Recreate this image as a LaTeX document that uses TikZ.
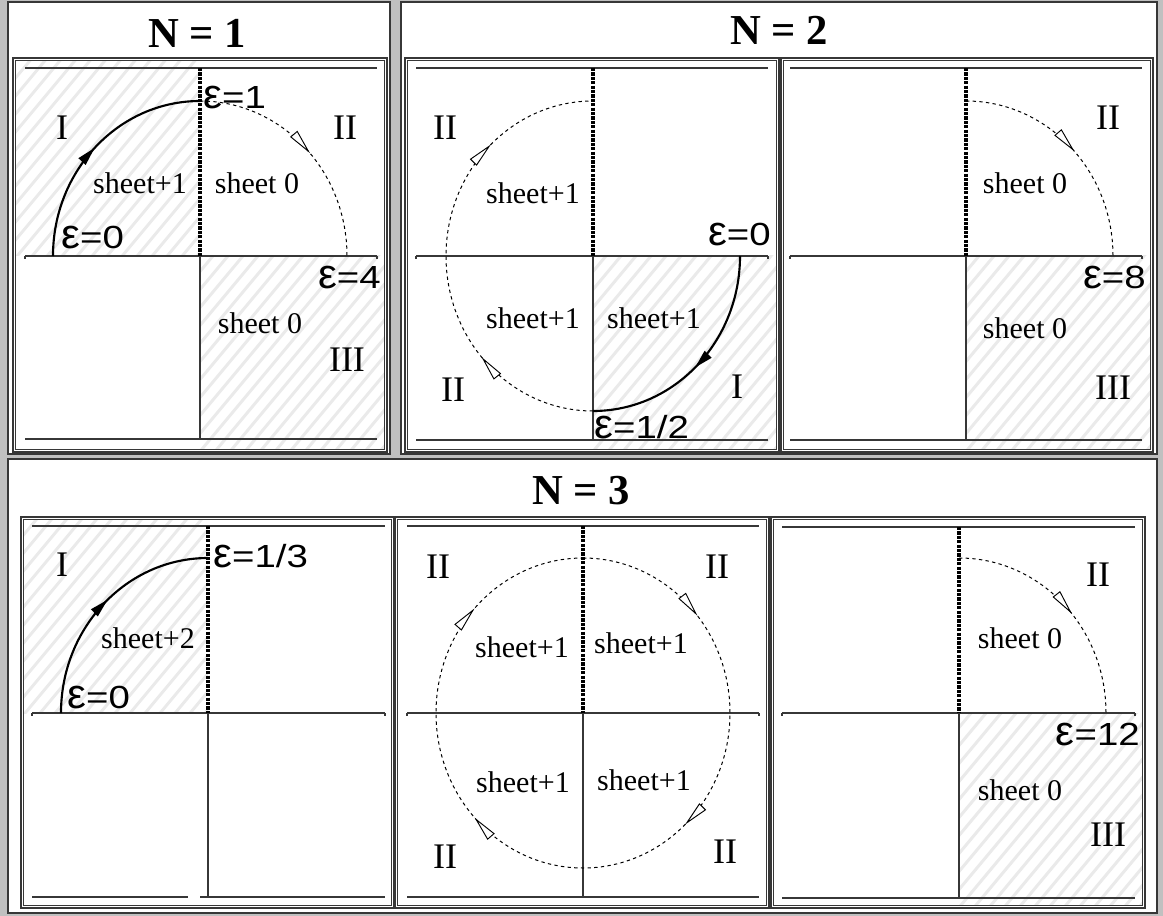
\documentclass[tikz,border=0pt]{standalone}
\usepackage{fontspec}
\usepackage{graphicx}
\setmainfont{Liberation Serif}
\newfontfamily\sansf{Liberation Sans}
\usetikzlibrary{arrows.meta,decorations.markings}
\definecolor{bgg}{RGB}{192,192,192}
\definecolor{frm}{RGB}{55,55,55}
\definecolor{htc}{RGB}{234,234,234}
\newcommand\epl[1]{\scalebox{1.2}[1]{\scalebox{1.1}[1.3]{ε}#1}}
\newcommand\myoa{\arrow[line width=0.7pt]{Triangle[length=19pt,width=7pt,fill=white]}}
\newcommand\myfa{\arrow{Triangle[length=14pt,width=7pt]}}
\newcommand\frameit[4]{%
  \draw[frm, line width=0.8pt] (#1,#2) rectangle (#3,#4);
  \draw[frm, line width=0.8pt] ({#1+2.5},{#2+2.5}) rectangle ({#3-2.5},{#4-2.5});}
\newcommand\hatchit[4]{%
  \begin{scope}
    \clip (#1,#2) rectangle (#3,#4);
    \foreach \k in {-14,...,15} {\draw[htc, line width=2.2pt] ({#1+\k*15},{#4+2}) -- ++(250,-300);}
  \end{scope}}
\newcommand\axesit[6]{% cx cy xl xr yt yb
  \draw[ax] (#3,#5) -- (#4,#5);
  \draw[ax] (#3,#2) -- (#4,#2);
  \draw[ax] (#3,#2) -- ++(0,3);
  \draw[ax] (#4,#2) -- ++(0,3);
  \draw[ax] (#1,#2) -- (#1,#6);
  \draw[dotv] (#1,#5) -- (#1,#2);}
\begin{document}
\begin{tikzpicture}[x=0.75pt,y=-0.75pt,
  ax/.style={frm, line width=0.9pt},
  dotv/.style={black, line width=2.8pt, dash pattern=on 2.4pt off 0.9pt},
  arcs/.style={black, line width=1.6pt},
  arcd/.style={black, line width=0.75pt, dash pattern=on 2.5pt off 2.5pt},
  boxst/.style={fill=white, draw=frm, line width=1.1pt},
  rom/.style={font=\fontsize{27}{27}\selectfont, inner sep=0pt},
  sh/.style={font=\fontsize{22.5}{22.5}\selectfont, inner sep=0pt},
  eps/.style={font=\sansf\fontsize{24}{24}\selectfont, inner sep=0pt},
  ttl/.style={font=\bfseries\fontsize{32}{32}\selectfont, inner sep=0pt}]
\useasboundingbox (0,0) rectangle (1163,916);
\fill[bgg] (0,0) rectangle (1163,916);
% outer boxes
\draw[boxst] (8,2) rectangle (390,454);
\draw[boxst] (401,2) rectangle (1157,454);
\draw[boxst] (8,459) rectangle (1157,913);
% titles
\node[ttl] (t1) at (197,33) {N = 1};
\node[ttl] (t2) at (779,30) {N = 2};
\node[ttl] (t3) at (581,491) {N = 3};
% hatching
\hatchit{15.5}{60.5}{200}{256}
\hatchit{200}{256}{384.5}{449.5}
\hatchit{593}{256}{776.5}{449.5}
\hatchit{966}{256}{1150.5}{449.5}
\hatchit{23.5}{519.5}{208}{713}
\hatchit{959}{713}{1142.5}{905.5}
% panel frames
\frameit{13}{58}{387}{452}
\frameit{405}{58}{779}{452}
\frameit{781}{58}{1153}{452}
\frameit{21}{517}{394}{908}
\frameit{395}{517}{769}{908}
\frameit{771}{517}{1145}{908}
% axes
\axesit{200}{256}{25}{377}{68}{439}
\draw[ax] (25,439) -- (377,439);
\axesit{593}{256}{416}{768}{68}{440}
\draw[ax] (416,440) -- (768,440);
\axesit{966}{256}{790}{1142}{68}{440}
\draw[ax] (790,440) -- (1142,440);
\axesit{208}{713}{32}{385}{526}{897}
\draw[ax] (32,897) -- (188,897);
\draw[ax] (200,897) -- (385,897);
\axesit{583}{713}{407}{759}{526}{897}
\draw[ax] (407,897) -- (759,897);
\axesit{959}{713}{782}{1135}{527}{898}
\draw[ax] (782,898) -- (1135,898);
% arcs A1
\draw[arcs, postaction={decorate}, decoration={markings, mark=at position 0.5 with {\myfa}}]
  (53,256) arc[start angle=-180, end angle=-90, x radius=147, y radius=155];
\draw[arcd, postaction={decorate}, decoration={markings, mark=at position 0.53 with {\myoa}}]
  (200,101) arc[start angle=-90, end angle=0, x radius=147, y radius=155];
% arcs B1
\draw[arcs, postaction={decorate}, decoration={markings, mark=at position 0.52 with {\myfa}}]
  (740,256) arc[start angle=0, end angle=90, x radius=147, y radius=155];
\draw[arcd, postaction={decorate}, decoration={markings, mark=at position 0.27 with {\myoa}, mark=at position 0.76 with {\myoa}}]
  (593,411) arc[start angle=90, end angle=270, x radius=147, y radius=155];
% arcs B2
\draw[arcd, postaction={decorate}, decoration={markings, mark=at position 0.52 with {\myoa}}]
  (966,101) arc[start angle=-90, end angle=0, x radius=147, y radius=155];
% arcs C1
\draw[arcs, postaction={decorate}, decoration={markings, mark=at position 0.53 with {\myfa}}]
  (61,713) arc[start angle=-180, end angle=-90, x radius=147, y radius=155];
% arcs C2
\draw[arcd, postaction={decorate}, decoration={markings,
    mark=at position 0.14 with {\myoa}, mark=at position 0.38 with {\myoa},
    mark=at position 0.63 with {\myoa}, mark=at position 0.87 with {\myoa}}]
  (583,558) arc[start angle=-90, end angle=270, x radius=147, y radius=155];
% arcs C3
\draw[arcd, postaction={decorate}, decoration={markings, mark=at position 0.55 with {\myoa}}]
  (959,558) arc[start angle=-90, end angle=0, x radius=147, y radius=155];
% labels A1
\node[rom] (a1r1) at (62,128) {I};
\node[rom] (a1r2) at (345,128) {II};
\node[sh] (a1s1) at (140,183) {sheet+1};
\node[sh] (a1s2) at (257,183) {sheet 0};
\node[eps, anchor=west] (a1e1) at (203,98) {\epl{=1}};
\node[eps, anchor=west] (a1e0) at (61,238) {\epl{=0}};
\node[eps, anchor=east] (a1e4) at (381,278) {\epl{=4}};
\node[sh] (a1s3) at (260,323) {sheet 0};
\node[rom] (a1r3) at (347,360) {III};
% labels B1
\node[rom] (b1r1) at (445,128) {II};
\node[sh] (b1s1) at (533,193) {sheet+1};
\node[eps, anchor=east] (b1e0) at (771,235) {\epl{=0}};
\node[sh] (b1s2) at (533,318) {sheet+1};
\node[sh] (b1s3) at (654,318) {sheet+1};
\node[rom] (b1r2) at (453,390) {II};
\node[rom] (b1r3) at (737,387) {I};
\node[eps, anchor=west] (b1e2) at (594,427) {\epl{=1/2}};
% labels B2
\node[rom] (b2r1) at (1108,118) {II};
\node[sh] (b2s1) at (1025,183) {sheet 0};
\node[eps, anchor=east] (b2e8) at (1146,278) {\epl{=8}};
\node[sh] (b2s2) at (1025,328) {sheet 0};
\node[rom] (b2r2) at (1113,388) {III};
% labels C1
\node[rom] (c1r1) at (62,565) {I};
\node[sh] (c1s1) at (148,638) {sheet+2};
\node[eps, anchor=west] (c1e1) at (213,556) {\epl{=1/3}};
\node[eps, anchor=west] (c1e0) at (67,698) {\epl{=0}};
% labels C2
\node[rom] (c2r1) at (438,567) {II};
\node[rom] (c2r2) at (717,567) {II};
\node[sh] (c2s1) at (522,647) {sheet+1};
\node[sh] (c2s2) at (641,643) {sheet+1};
\node[sh] (c2s3) at (523,782) {sheet+1};
\node[sh] (c2s4) at (644,780) {sheet+1};
\node[rom] (c2r3) at (445,857) {II};
\node[rom] (c2r4) at (725,852) {II};
% labels C3
\node[rom] (c3r1) at (1098,575) {II};
\node[sh] (c3s1) at (1020,638) {sheet 0};
\node[eps, anchor=east] (c3e1) at (1140,735) {\epl{=12}};
\node[sh] (c3s2) at (1020,790) {sheet 0};
\node[rom] (c3r2) at (1108,835) {III};
\end{tikzpicture}
\end{document}
